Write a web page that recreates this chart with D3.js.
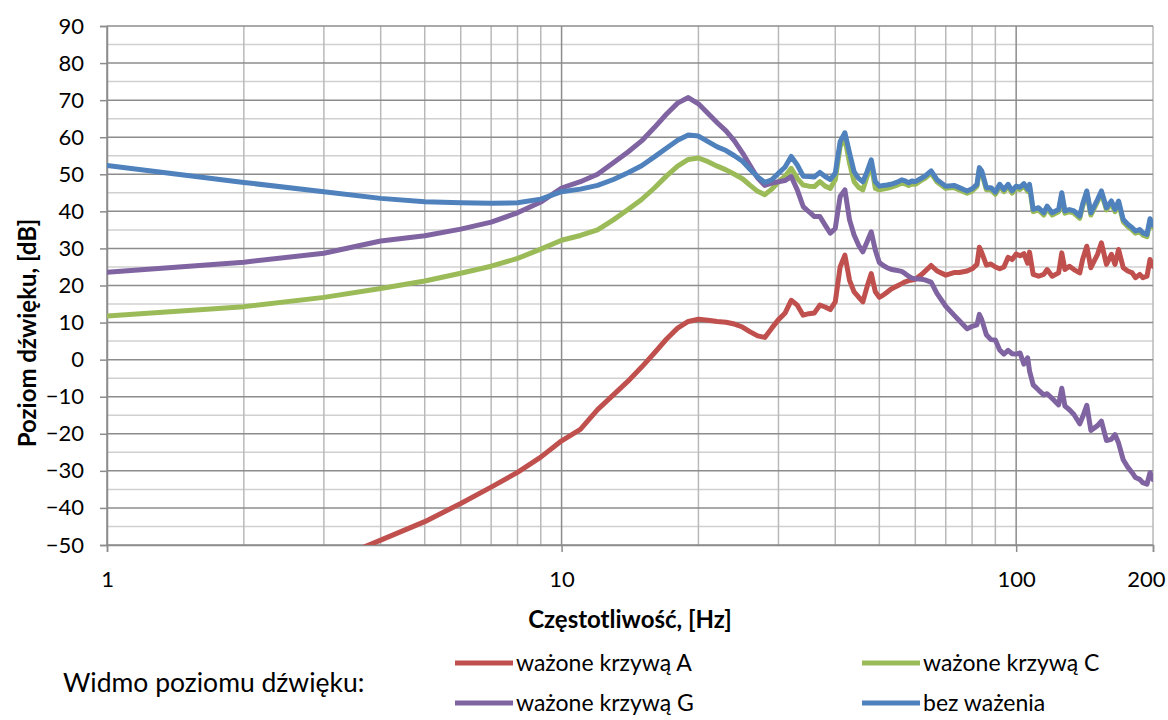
<!DOCTYPE html>
<html>
<head>
<meta charset="utf-8">
<script src="https://cdn.jsdelivr.net/npm/d3@7"></script>
<style>
  html, body { margin: 0; padding: 0; background: #fff; }
  svg { display: block; font-family: Lato, "Noto Sans", sans-serif; }
</style>
</head>
<body>
<svg id="chart" width="1168" height="720"></svg>
<script>
// Frequencies of the spectrum lines, Hz
const freqs = [
  1, 2, 3, 4, 5, 6, 7, 8, 9, 10,
  11, 12, 13, 14, 15, 16, 17, 18, 19, 20,
  21, 22, 23, 24, 25, 26, 27, 28, 29, 30,
  31, 32, 33, 34, 35, 36, 37, 38, 39, 40,
  41, 42, 43, 44, 45, 46, 47, 48, 49, 50,
  51, 52, 53, 54, 55, 56, 57, 58, 59, 60,
  62, 63, 65, 67, 70, 73, 75, 78, 80, 82,
  83, 84, 86, 88, 90, 92, 94, 96, 98, 100,
  102, 104, 106, 107, 109, 112, 115, 117, 120, 124,
  126, 128, 131, 134, 138, 140, 143, 146, 151, 154,
  158, 162, 165, 168, 172, 176, 180, 183, 187, 190,
  194, 197, 200
];

// Sound level, dB – A-weighted
const levelA = [
  -92, -68, -55, -48.7, -43.7, -38.8, -34.4, -30.4, -26.3, -21.9,
  -18.8, -13.5, -9.5, -5.8, -2.0, 1.8, 5.5, 8.5, 10.3, 10.9,
  10.6, 10.3, 10.1, 9.6, 8.8, 7.5, 6.4, 6.0, 8.5, 10.8,
  12.5, 16.0, 14.7, 12.0, 12.4, 12.6, 14.7, 14.2, 13.5, 15.6,
  25.0, 28.2, 21.4, 18.3, 16.9, 15.6, 19.7, 23.2, 18.3, 16.8,
  17.4, 18.2, 19.0, 19.5, 20.0, 20.5, 21.0, 21.3, 21.5, 21.7,
  23.0, 23.8, 25.4, 23.9, 22.8, 23.5, 23.5, 23.9, 24.5, 25.7,
  30.3, 28.9, 25.5, 25.8, 25.0, 24.5, 25.0, 27.6, 27.0, 28.5,
  28.0, 28.6, 26.0, 29.0, 23.0, 22.5, 23.0, 24.3, 22.5, 23.4,
  28.8, 24.3, 25.2, 24.3, 23.4, 27.0, 30.6, 24.8, 28.4, 31.5,
  25.7, 28.4, 25.7, 29.7, 24.8, 23.9, 23.4, 22.1, 23.0, 22.1,
  22.5, 27.0, 25.2
];

// Sound level, dB – C-weighted
const levelC = [
  11.8, 14.3, 16.8, 19.2, 21.2, 23.3, 25.2, 27.3, 29.8, 32.2,
  33.5, 35.0, 37.7, 40.5, 43.2, 46.3, 49.5, 52.2, 54.0, 54.4,
  53.4, 52.2, 51.2, 50.0, 48.8, 47.0, 45.4, 44.5, 46.0, 48.0,
  49.4, 51.6, 48.9, 47.1, 46.8, 46.7, 48.0, 46.8, 46.2, 48.5,
  57.5, 59.7, 53.0, 48.0, 46.5, 45.8, 49.4, 52.5, 46.2, 45.8,
  46.0, 46.2, 46.5, 46.8, 47.2, 47.6, 47.4, 47.0, 47.4, 47.3,
  48.4, 48.9, 50.3, 47.9, 46.2, 46.4, 45.8, 44.9, 45.5, 46.7,
  51.2, 50.3, 45.8, 45.8, 44.6, 46.7, 45.3, 46.7, 44.9, 46.2,
  45.9, 46.9, 45.4, 46.7, 39.9, 40.4, 39.0, 40.8, 39.0, 39.9,
  44.4, 39.5, 39.9, 39.5, 38.1, 41.3, 44.9, 39.0, 42.6, 44.9,
  40.4, 42.2, 39.9, 42.2, 37.2, 35.9, 35.0, 34.1, 34.5, 33.6,
  33.2, 37.4, 35.7
];

// Sound level, dB – G-weighted
const levelG = [
  23.6, 26.3, 28.7, 32.0, 33.4, 35.2, 37.1, 39.6, 42.5, 46.3,
  48.0, 50.0, 53.1, 56.0, 59.0, 62.6, 66.2, 69.2, 70.7, 69.0,
  66.4, 63.9, 61.7, 59.0, 55.8, 52.3, 49.0, 47.0, 47.6, 48.0,
  48.3, 49.4, 45.8, 41.3, 39.9, 38.6, 38.6, 36.3, 34.1, 35.4,
  44.0, 45.8, 37.7, 33.6, 30.9, 29.1, 31.8, 34.5, 29.5, 26.2,
  25.4, 24.8, 24.4, 24.2, 24.0, 23.8, 23.2, 22.5, 22.0, 21.8,
  21.7, 21.5, 20.9, 17.8, 14.4, 12.0, 10.5, 8.3, 9.0, 9.4,
  12.2, 10.8, 6.7, 5.4, 5.3, 2.6, 1.5, 2.5, 1.6, 1.5,
  1.8, -1.2, 0.5, -3.0, -6.8, -8.2, -9.5, -9.2, -10.5, -12.2,
  -7.7, -12.5, -13.5, -14.8, -17.3, -15.5, -12.3, -19.1, -17.8, -16.6,
  -21.8, -21.5, -20.2, -22.5, -27.0, -29.0, -30.5, -31.8, -32.3, -33.2,
  -33.6, -30.5, -32.3
];

// Sound level, dB – unweighted
const levelZ = [
  52.4, 47.8, 45.3, 43.5, 42.6, 42.3, 42.2, 42.3, 43.3, 45.3,
  46.0, 47.0, 48.6, 50.4, 52.3, 54.7, 57.0, 59.2, 60.6, 60.3,
  58.8, 57.4, 56.4, 55.0, 53.5, 51.3, 49.3, 47.8, 48.5, 50.3,
  51.9, 54.8, 52.5, 49.5, 49.4, 49.3, 50.5, 49.4, 48.6, 50.3,
  58.8, 61.2, 55.7, 50.7, 48.9, 48.0, 50.7, 53.9, 48.0, 46.8,
  47.0, 47.1, 47.3, 47.6, 48.0, 48.5, 48.2, 47.7, 48.2, 48.0,
  49.0, 49.5, 50.9, 48.5, 46.8, 47.0, 46.4, 45.5, 46.1, 47.3,
  51.8, 50.9, 46.4, 46.4, 45.2, 47.3, 45.9, 47.3, 45.5, 46.8,
  46.5, 47.5, 46.0, 47.3, 40.5, 41.0, 39.6, 41.4, 39.6, 40.5,
  45.0, 40.1, 40.5, 40.1, 38.7, 41.9, 45.5, 39.6, 43.2, 45.5,
  41.0, 42.8, 40.5, 42.8, 37.8, 36.5, 35.6, 34.7, 35.1, 34.2,
  33.8, 38.0, 36.3
];

const seriesNames = ["ważone krzywą A", "ważone krzywą C", "ważone krzywą G", "bez ważenia"];
const seriesColors = ["#C0504D", "#9BBB59", "#8064A2", "#4F81BD"];
const seriesValues = [levelA, levelC, levelG, levelZ];

const xTickValues = [1, 10, 100, 200];
const yTickValues = [-50, -40, -30, -20, -10, 0, 10, 20, 30, 40, 50, 60, 70, 80, 90];

const xTitle = "Częstotliwość, [Hz]";
const yTitle = "Poziom dźwięku, [dB]";
const legendTitle = "Widmo poziomu dźwięku:";

// ---- layout ----
const plot = { left: 107, right: 1153, top: 26, bottom: 545 };
const svg = d3.select("#chart");

const x = d3.scaleLog().domain([1, 200]).range([plot.left, plot.right]);
const y = d3.scaleLinear().domain([-50, 90]).range([plot.bottom, plot.top]);

// ---- grid ----
const grid = svg.append("g");
const minorY = d3.range(-45, 90, 10);
grid.selectAll("line.hmin").data(minorY).join("line")
  .attr("x1", plot.left).attr("x2", plot.right)
  .attr("y1", d => y(d)).attr("y2", d => y(d))
  .attr("stroke", "#d0d0d0").attr("stroke-width", 1.5);

const vLines = [];
[1, 10, 100].forEach(dec => { for (let k = 1; k <= 9; k++) { const f = dec * k; if (f <= 200) vLines.push(f); } });
grid.selectAll("line.v").data(vLines.filter(f => ![1, 10, 100].includes(f))).join("line")
  .attr("x1", d => x(d)).attr("x2", d => x(d))
  .attr("y1", plot.top).attr("y2", plot.bottom)
  .attr("stroke", "#b9b9b9").attr("stroke-width", 1.5);

grid.selectAll("line.hmaj").data(yTickValues).join("line")
  .attr("x1", plot.left).attr("x2", plot.right)
  .attr("y1", d => y(d)).attr("y2", d => y(d))
  .attr("stroke", "#8c8c8c").attr("stroke-width", 1.5);

grid.selectAll("line.vmaj").data([1, 10, 100]).join("line")
  .attr("x1", d => x(d)).attr("x2", d => x(d))
  .attr("y1", plot.top).attr("y2", plot.bottom)
  .attr("stroke", "#8c8c8c").attr("stroke-width", 1.5);

// ---- axes ----
const yAxis = svg.append("g")
  .attr("transform", `translate(${plot.left},0)`)
  .call(d3.axisLeft(y).tickValues(yTickValues).tickSize(7).tickPadding(16).tickFormat(d3.format("d")));
yAxis.select(".domain").attr("stroke", "#8c8c8c").attr("stroke-width", 1.5);
yAxis.selectAll(".tick line").attr("stroke", "#8c8c8c").attr("stroke-width", 1.5);
yAxis.selectAll(".tick text").attr("font-size", 22).attr("fill", "#000").attr("font-family", "Lato");

const xAxis = svg.append("g")
  .attr("transform", `translate(0,${plot.bottom})`)
  .call(d3.axisBottom(x).tickValues(xTickValues).tickSize(7).tickPadding(19).tickFormat(d3.format("d")));
xAxis.select(".domain").attr("stroke", "#8c8c8c").attr("stroke-width", 1.5);
xAxis.selectAll(".tick line").attr("stroke", "#8c8c8c").attr("stroke-width", 1.5);
xAxis.selectAll(".tick text").attr("font-size", 22).attr("fill", "#000").attr("font-family", "Lato");
// the last label is kept inside the chart edge
xAxis.selectAll(".tick text").filter(d => d === 200)
  .attr("text-anchor", "end").attr("dx", 12);

// ---- series ----
svg.append("clipPath").attr("id", "plotClip")
  .append("rect")
  .attr("x", plot.left).attr("y", plot.top)
  .attr("width", plot.right - plot.left).attr("height", plot.bottom - plot.top);

const line = d3.line()
  .x(d => x(d[0]))
  .y(d => y(d[1]));

const seriesG = svg.append("g").attr("clip-path", "url(#plotClip)");
seriesValues.forEach((vals, i) => {
  seriesG.append("path")
    .datum(freqs.map((f, j) => [f, vals[j]]))
    .attr("d", line)
    .attr("fill", "none")
    .attr("stroke", seriesColors[i])
    .attr("stroke-width", 5)
    .attr("stroke-linejoin", "round")
    .attr("stroke-linecap", "round");
});

// ---- titles ----
svg.append("text")
  .attr("x", 630).attr("y", 628)
  .attr("text-anchor", "middle")
  .attr("font-size", 24).attr("font-weight", "bold")
  .text(xTitle);

svg.append("text")
  .attr("transform", "translate(36,333) rotate(-90)")
  .attr("text-anchor", "middle")
  .attr("font-size", 24).attr("font-weight", "bold")
  .text(yTitle);

// ---- legend ----
svg.append("text")
  .attr("x", 63).attr("y", 692)
  .attr("font-size", 26.5)
  .text(legendTitle);

const legendPos = [
  { lx: 455, ly: 663 }, { lx: 862, ly: 663 },
  { lx: 455, ly: 703 }, { lx: 862, ly: 703 }
];
const legend = svg.append("g");
seriesNames.forEach((name, i) => {
  const p = legendPos[i];
  legend.append("line")
    .attr("x1", p.lx).attr("x2", p.lx + 58)
    .attr("y1", p.ly).attr("y2", p.ly)
    .attr("stroke", seriesColors[i]).attr("stroke-width", 5);
  legend.append("text")
    .attr("x", p.lx + 61).attr("y", p.ly + 8)
    .attr("font-size", 23)
    .text(name);
});
</script>
</body>
</html>
